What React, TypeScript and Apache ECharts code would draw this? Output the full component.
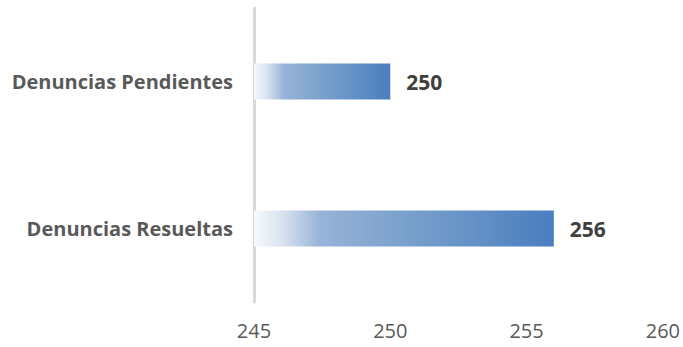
import React, { useEffect, useRef } from "react";
import * as echarts from "echarts";

const categories = ["Denuncias Resueltas", "Denuncias Pendientes"];
const values = [256, 250];
const xTicks = [245, 250, 255, 260];

export default function App() {
  const ref = useRef<HTMLDivElement>(null);
  useEffect(() => {
    const chart = echarts.init(ref.current!, null, { renderer: "svg" });
    chart.setOption({
      animation: false,
      grid: { left: 254, right: 18, top: 8, bottom: 45, containLabel: false },
      xAxis: {
        type: "value",
        min: xTicks[0],
        max: xTicks[xTicks.length - 1],
        interval: 5,
        splitLine: { show: false },
        axisLine: { show: false },
        axisTick: { show: false },
        axisLabel: {
          color: "#595959",
          fontSize: 20,
          fontFamily: "Open Sans",
          margin: 18,
        },
      },
      yAxis: {
        type: "category",
        data: categories,
        axisLine: { show: true, lineStyle: { color: "#d9d9d9", width: 3 } },
        axisTick: { show: false },
        axisLabel: {
          color: "#595959",
          fontSize: 20,
          fontWeight: "bold",
          fontFamily: "Open Sans",
          margin: 21,
        },
      },
      series: [
        {
          type: "bar",
          data: values,
          barWidth: 36,
          itemStyle: {
            color: new echarts.graphic.LinearGradient(0, 0, 1, 0, [
              { offset: 0, color: "#f7f9fc" },
              { offset: 0.1, color: "#d6e1ef" },
              { offset: 0.22, color: "#97b3d8" },
              { offset: 0.5, color: "#7aa1cc" },
              { offset: 1, color: "#4a7ebf" },
            ]),
          },
          label: {
            show: true,
            position: "right",
            distance: 16,
            color: "#404040",
            fontSize: 21,
            fontWeight: "bold",
            fontFamily: "Open Sans",
          },
        },
      ],
    });
    return () => chart.dispose();
  }, []);
  return (
    <div
      ref={ref}
      style={{ position: "absolute", left: 0, top: 0, width: 683, height: 347 }}
    />
  );
}
